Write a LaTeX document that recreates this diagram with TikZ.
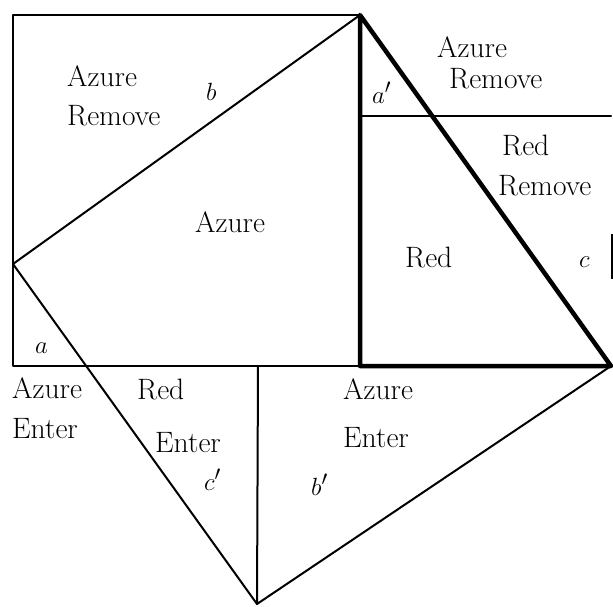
\documentclass[tikz,border=0pt]{standalone}
\begin{document}
\begin{tikzpicture}[x=1pt,y=-1pt,
  thin line/.style={line width=2pt,line cap=round,line join=round},
  thick line/.style={line width=4.5pt,line cap=round,line join=round},
  lbl/.style={font=\fontsize{29.5}{34}\selectfont,inner sep=0pt,anchor=base west}]
\useasboundingbox (0,0) rectangle (613,606);
% corner points
\coordinate (A) at (13,15);
\coordinate (B) at (360,15);
\coordinate (L) at (13,264);
\coordinate (D) at (13,366);
\coordinate (F) at (258,366);
\coordinate (M) at (360,366);
\coordinate (R) at (611,366);
\coordinate (H) at (360,116);
\coordinate (H2) at (611,116);
\coordinate (V) at (257,604);
\coordinate (T1) at (612,234);
\coordinate (T2) at (612,279);
% thin lines
\draw[thin line] (B) -- (A) -- (D) -- (M);
\draw[thin line] (L) -- (B);
\draw[thin line] (L) -- (V);
\draw[thin line] (F) -- (V) -- (R);
\draw[thin line] (H) -- (H2);
\draw[line width=1.5pt] (T1) -- (T2);
% thick lines
\draw[thick line] (B) -- (M) -- (R) -- cycle;
% labels
\node[lbl] (t1) at (67,86) {Azure};
\node[lbl] (t2) at (67,125) {Remove};
\node[lbl] (tb) at (206,100) {$b$};
\node[lbl] (t3) at (195,232) {Azure};
\node[lbl] (ta1) at (372,103) {$a'$};
\node[lbl] (t4) at (437,57) {Azure};
\node[lbl] (t5) at (449,88) {Remove};
\node[lbl] (t6) at (502,155) {Red};
\node[lbl] (t7) at (498,195) {Remove};
\node[lbl] (t8) at (405,267) {Red};
\node[lbl] (tc) at (579,267) {$c$};
\node[lbl] (ta) at (35,353) {$a$};
\node[lbl] (t9) at (12,398) {Azure};
\node[lbl] (t10) at (12,438) {Enter};
\node[lbl] (t11) at (137,399) {Red};
\node[lbl] (t12) at (155,452) {Enter};
\node[lbl] (tc1) at (204,490) {$c'$};
\node[lbl] (t13) at (343,399) {Azure};
\node[lbl] (t14) at (343,447) {Enter};
\node[lbl] (tb1) at (311,495) {$b'$};
\end{tikzpicture}
\end{document}
